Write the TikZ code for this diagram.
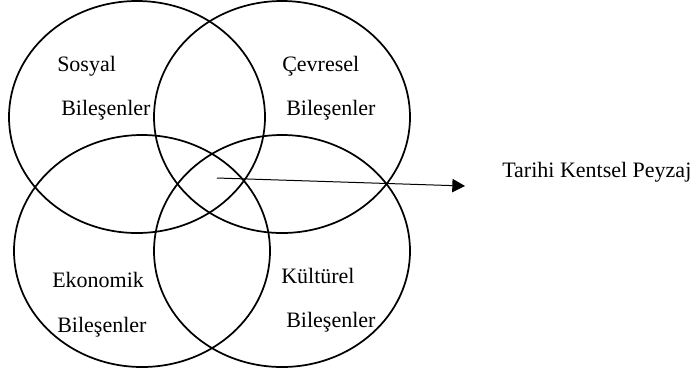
\documentclass[tikz,border=0pt]{standalone}
\usepackage{fontspec}
\setmainfont{Liberation Serif}
\usetikzlibrary{shapes.geometric,arrows.meta}

\tikzset{
  venn/.style={draw,thick,line width=1.3pt,ellipse,inner sep=0pt,minimum width=192pt,minimum height=174pt},
  etiket/.style={anchor=base west,inner sep=0pt,font=\fontsize{16.5}{20}\selectfont}
}

\begin{document}
\begin{tikzpicture}[x=0.75pt,y=-0.75pt]
\useasboundingbox (0,0) rectangle (698,376);
% Four overlapping components
\node[venn] (sosyal) at (137,117) {};
\node[venn] (cevresel) at (282,117) {};
\node[venn] (ekonomik) at (142,251) {};
\node[venn] (kulturel) at (282,251) {};
% Component labels
\node[etiket] (s1) at (57,71) {Sosyal};
\node[etiket] (s2) at (61,115) {Bileşenler};
\node[etiket] (c1) at (282,71) {Çevresel};
\node[etiket] (c2) at (286,115) {Bileşenler};
\node[etiket] (e1) at (52,287) {Ekonomik};
\node[etiket] (e2) at (57,332) {Bileşenler};
\node[etiket] (k1) at (281,283) {Kültürel};
\node[etiket] (k2) at (286,327) {Bileşenler};
% Intersection pointer
\coordinate (kesisim) at (217,178);
\coordinate (uc) at (465,186);
\node[etiket] (peyzaj) at (502,177) {Tarihi Kentsel Peyzaj};
\draw[-{Triangle[length=9.5pt,width=10pt]},line width=0.75pt] (kesisim) -- (uc);
\end{tikzpicture}
\end{document}
